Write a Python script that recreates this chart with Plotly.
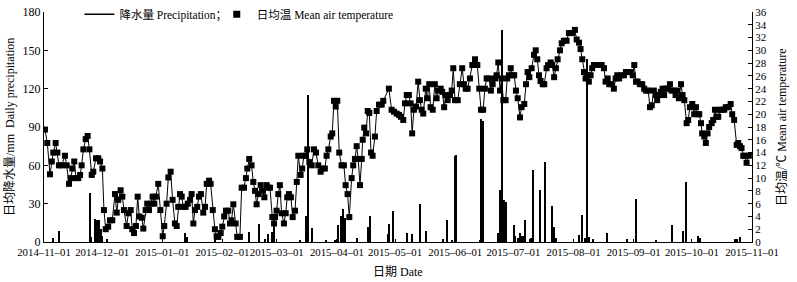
import pandas as pd
import plotly.graph_objects as go

start = pd.Timestamp("2014-11-01")
end = pd.Timestamp("2015-11-01")

# Mean air temperature (°C), position given as day offset from 2014-11-01
temp_day = [0.5, 1.7, 3.1, 4.0, 4.8, 6.0, 6.9, 7.7, 9.1, 10.8, 11.7, 12.9, 13.7, 14.6, 15.6, 16.5, 17.7, 18.6, 19.4, 20.3,
            21.5, 22.5, 23.4, 24.6, 25.4, 26.8, 28.0, 28.9, 30.1, 30.9, 31.8, 33.1, 34.0, 35.2, 36.6, 37.5, 38.3, 39.5, 40.4, 41.2,
            42.6, 43.5, 44.7, 45.5, 46.4, 47.4, 48.3, 49.1, 50.4, 51.2, 52.4, 53.2, 54.1, 55.0, 56.0, 56.9, 57.7, 58.9, 60.0, 61.2,
            62.0, 63.2, 64.1, 65.3, 66.3, 67.5, 68.4, 69.2, 70.1, 71.0, 71.8, 73.0, 74.1, 75.3, 76.1, 77.0, 77.8, 79.0, 79.9, 80.9,
            82.1, 83.0, 83.9, 85.1, 85.9, 87.0, 88.1, 89.0, 89.9, 91.1, 91.9, 92.9, 93.8, 95.0, 95.9, 96.7, 97.6, 98.8, 99.6, 101.0,
            101.9, 103.1, 104.1, 104.8, 105.8, 107.0, 107.9, 108.8, 109.6, 110.5, 111.7, 112.7, 113.6, 114.8, 115.6, 116.5, 117.7, 118.6, 119.1, 119.9,
            120.8, 121.6, 122.5, 123.7, 124.6, 125.4, 126.3, 127.3, 128.2, 129.4, 130.3, 131.1, 132.3, 133.1, 134.0, 134.9, 135.7, 136.8, 138.0, 139.2,
            140.2, 141.4, 142.6, 143.5, 144.8, 145.7, 146.6, 147.8, 148.6, 149.5, 150.4, 151.2, 152.2, 153.4, 154.6, 155.5, 156.5, 157.4, 158.6, 159.4,
            160.3, 161.2, 162.0, 162.9, 163.8, 164.3, 165.1, 166.0, 166.9, 167.7, 168.6, 169.4, 170.6, 171.5, 172.7, 174.1, 174.9, 177.8, 179.2, 180.4,
            181.8, 183.0, 184.0, 185.2, 186.1, 187.0, 188.1, 189.0, 189.8, 190.7, 191.8, 192.9, 193.8, 194.7, 195.5, 196.8, 197.6, 198.6, 199.3, 200.4,
            201.5, 202.4, 203.2, 204.5, 205.3, 206.3, 207.2, 208.1, 209.3, 210.2, 211.0, 211.9, 213.3, 214.4, 215.6, 216.5, 217.4, 218.4, 219.6, 220.8,
            222.2, 223.4, 224.4, 225.3, 226.4, 227.3, 228.2, 229.4, 230.4, 231.3, 232.5, 233.3, 234.2, 235.1, 235.9, 236.8, 238.0, 238.8, 239.7, 240.6,
            241.6, 242.4, 243.3, 244.2, 245.4, 246.2, 247.6, 248.5, 249.3, 250.2, 251.4, 252.6, 253.5, 254.3, 255.2, 256.0, 257.1, 257.9, 259.1, 259.9,
            261.2, 262.0, 263.0, 263.9, 264.8, 266.0, 266.9, 268.0, 269.4, 270.6, 272.3, 273.7, 274.6, 275.8, 276.6, 277.5, 278.4, 279.2, 280.1, 280.9,
            281.8, 282.6, 283.5, 284.9, 286.1, 287.5, 288.7, 289.5, 290.6, 291.4, 292.6, 293.8, 294.7, 295.5, 296.5, 297.8, 299.0, 300.0, 301.2, 302.4,
            303.5, 304.3, 305.2, 306.0, 307.2, 308.4, 309.4, 310.3, 311.5, 312.4, 313.3, 314.4, 315.3, 316.1, 317.0, 318.0, 318.9, 319.7, 320.6, 321.5,
            322.7, 323.5, 324.7, 325.6, 326.4, 327.3, 328.4, 329.2, 330.1, 331.3, 332.1, 333.0, 334.2, 335.2, 336.1, 337.0, 337.8, 338.7, 339.3, 340.4,
            341.2, 342.1, 342.9, 344.2, 345.0, 345.9, 346.8, 347.6, 348.5, 349.6, 350.7, 351.5, 352.7, 354.0, 354.8, 355.8, 357.1, 357.9, 358.8, 359.6,
            360.5, 361.3, 362.2, 363.4]
temp_val = [17.6, 15.5, 10.6, 12.6, 14.0, 15.5, 14.0, 12.0, 12.0, 13.5, 12.0, 9.1, 10.0, 11.5, 12.6, 10.0, 10.0, 10.5, 12.0, 14.5,
            16.1, 16.6, 14.5, 10.5, 11.0, 13.1, 13.1, 12.6, 11.5, 5.0, 2.0, 2.4, 3.4, 3.4, 7.5, 4.6, 6.6, 8.1, 7.1, 5.0,
            2.5, 4.5, 5.0, 2.0, 1.4, 2.5, 7.1, 4.0, 3.8, 2.1, 5.0, 6.0, 5.0, 6.0, 7.1, 6.0, 7.1, 9.1, 5.0, 0.9,
            2.5, 6.0, 10.1, 11.0, 6.6, 2.9, 2.5, 5.5, 7.5, 7.1, 5.5, 5.5, 6.0, 6.6, 7.5, 2.9, 5.0, 5.5, 7.1, 7.5,
            4.6, 5.5, 9.1, 9.6, 9.1, 5.0, 2.0, 0.9, 0.8, 1.4, 2.4, 4.0, 4.9, 4.9, 2.9, 3.4, 5.9, 2.9, 0.8, 0.8,
            8.5, 8.5, 10.0, 11.5, 13.0, 12.0, 9.4, 8.0, 5.9, 7.5, 8.9, 8.0, 7.0, 8.9, 8.5, 8.5, 3.9, 2.9, 3.9, 4.9,
            7.5, 8.9, 4.5, 2.9, 4.5, 7.0, 7.5, 7.0, 3.9, 4.9, 9.4, 13.5, 10.5, 11.5, 13.5, 13.5, 14.5, 12.5, 12.0, 14.5,
            14.0, 12.0, 11.0, 11.5, 11.5, 13.5, 14.5, 16.5, 17.0, 22.1, 21.2, 22.1, 14.0, 12.0, 12.0, 8.9, 7.5, 3.9, 10.0, 12.0,
            13.0, 15.0, 13.0, 8.9, 13.0, 16.0, 17.9, 17.0, 20.5, 20.2, 14.0, 13.5, 16.5, 20.5, 21.5, 21.5, 22.1, 24.0, 20.7, 20.4,
            20.1, 19.9, 19.6, 19.1, 21.7, 23.0, 23.0, 21.7, 17.0, 20.7, 21.2, 25.1, 22.2, 20.7, 20.1, 24.0, 22.5, 24.7, 21.1, 20.7,
            24.7, 22.5, 23.7, 24.0, 23.5, 21.1, 23.0, 22.2, 23.0, 23.7, 27.2, 22.2, 22.2, 24.7, 27.2, 24.7, 24.0, 24.0, 25.6, 27.7,
            28.6, 27.7, 24.0, 20.7, 20.7, 24.0, 25.6, 25.6, 23.7, 24.7, 25.6, 26.1, 28.1, 23.7, 25.6, 22.2, 22.2, 25.6, 26.1, 27.2,
            26.1, 26.1, 23.7, 22.5, 19.5, 21.1, 21.6, 24.7, 26.6, 25.8, 27.2, 29.3, 30.0, 28.6, 26.1, 25.2, 24.7, 24.7, 27.2, 27.7,
            28.1, 27.7, 25.8, 27.2, 28.6, 30.0, 31.1, 31.5, 31.5, 32.7, 32.7, 33.2, 31.7, 31.2, 30.2, 28.6, 26.6, 25.6, 26.1, 25.1,
            26.1, 27.2, 27.7, 27.7, 27.7, 27.7, 27.2, 25.1, 25.6, 24.7, 24.7, 24.0, 25.6, 26.1, 25.6, 26.1, 26.1, 26.6, 26.6, 26.6,
            26.1, 27.7, 25.1, 25.1, 24.7, 24.7, 24.0, 23.7, 23.7, 21.1, 21.4, 23.7, 23.0, 22.2, 23.0, 23.5, 24.0, 23.0, 24.0, 24.0,
            24.7, 23.7, 23.7, 23.0, 23.7, 22.5, 24.7, 23.0, 22.2, 18.6, 19.1, 21.1, 21.6, 20.0, 21.1, 20.0, 20.0, 18.6, 17.0, 16.5,
            15.5, 17.0, 18.0, 18.6, 19.1, 20.7, 19.6, 19.6, 20.7, 20.7, 20.7, 21.1, 21.1, 21.6, 20.0, 19.1, 15.2, 15.5, 15.0, 14.7,
            13.5, 13.5, 12.4, 13.5]

# Daily precipitation (mm), position given as day offset from 2014-11-01
rain_day = [4.6, 7.7, 23.7, 24.2, 26.6, 27.5, 28.5, 29.4, 30.1, 32.8, 73.0, 73.7, 88.1, 105.8, 110.8, 113.9, 115.6, 117.7, 118.6, 132.3,
            135.4, 136.2, 138.3, 145.4, 150.0, 151.4, 153.1, 154.3, 155.2, 161.2, 167.2, 168.0, 177.2, 177.8, 180.1, 187.0, 189.8, 193.8, 196.8, 205.8,
            207.9, 210.5, 211.9, 212.7, 224.7, 225.6, 226.4, 234.2, 235.4, 236.2, 237.3, 238.1, 242.3, 243.1, 244.2, 245.4, 246.2, 247.1, 248.3, 250.5,
            251.4, 252.2, 256.0, 258.2, 262.2, 263.0, 263.9, 275.8, 277.7, 279.2, 280.1, 280.9, 283.1, 290.1, 300.9, 305.5, 315.5, 323.6, 329.5, 331.3,
            337.3, 338.1, 356.2, 357.1, 359.1]
rain_mm = [3, 9, 38, 4, 18, 17, 17, 10, 5, 2.5, 7, 4, 2, 8, 14, 2, 6, 8, 15, 1,
           20, 115, 11, 1, 1, 13, 20, 26, 19, 3, 12, 20, 6, 14, 24, 7, 6, 30, 9, 2.5,
           17, 1, 67, 68, 1, 96, 95, 7, 41, 166, 33, 31.5, 13, 5, 3, 7, 5, 4.5, 17, 2,
           3, 56, 41, 63, 28, 12, 3, 5.5, 21, 3, 143, 4, 2, 7, 2, 34, 1, 13, 9, 47,
           5, 3.5, 2, 2, 4]

month_ticks = pd.date_range(start, end, freq="MS")

tx = [start + pd.Timedelta(days=d) for d in temp_day]
rx = [start + pd.Timedelta(days=d) for d in rain_day]

FONT = "Liberation Serif, Times New Roman, Noto Sans CJK SC, serif"

fig = go.Figure()
fig.add_trace(go.Bar(x=rx, y=rain_mm, width=0.7 * 86400000, marker=dict(color="black", line=dict(width=0)),
                     showlegend=False, yaxis="y"))
fig.add_trace(go.Scatter(x=tx, y=temp_val, mode="lines+markers", yaxis="y2", showlegend=False,
                         line=dict(color="black", width=1),
                         marker=dict(symbol="square", size=6, color="black")))
# legend entries
fig.add_trace(go.Scatter(x=[None], y=[None], mode="lines", name="降水量 Precipitation；",
                         line=dict(color="black", width=1.5), legend="legend"))
fig.add_trace(go.Scatter(x=[None], y=[None], mode="markers", name="日均温 Mean air temperature",
                         marker=dict(symbol="square", size=7, color="black"), yaxis="y2", legend="legend2"))

fig.update_layout(
    width=797, height=282,
    margin=dict(l=44, r=45, t=12, b=40, autoexpand=False),
    paper_bgcolor="white", plot_bgcolor="white",
    font=dict(family=FONT, size=11, color="black"),
    bargap=0,
    xaxis=dict(range=[start, end], tickvals=month_ticks, tickformat="%Y–%m–%d", tickangle=0,
               automargin=False,
               showline=True, linecolor="black", linewidth=1, ticks="inside", ticklen=3,
               tickcolor="black", showgrid=False, zeroline=False,
               tickfont=dict(size=10.8)),
    yaxis=dict(range=[0, 180], dtick=30, showline=True, linecolor="black", linewidth=1, automargin=False,
               ticks="inside", ticklen=4, tickcolor="black", showgrid=False, zeroline=False,
               tickfont=dict(size=12)),
    yaxis2=dict(range=[0, 36], dtick=2, overlaying="y", side="right", showline=True, linecolor="black",
                linewidth=1, ticks="inside", ticklen=4, tickcolor="black", showgrid=False, zeroline=False,
                automargin=False, tickfont=dict(size=11)),
    legend=dict(orientation="h", x=0.05, y=0.99, xanchor="left", yanchor="middle",
                bgcolor="rgba(0,0,0,0)", font=dict(size=11.5), itemwidth=30),
    legend2=dict(orientation="h", x=0.244, y=0.99, xanchor="left", yanchor="middle",
                 bgcolor="rgba(0,0,0,0)", font=dict(size=11.5), itemwidth=30),
    annotations=[
        dict(text="日均降水量/mm  Daily precipitation", xref="paper", yref="paper", x=0, y=0.5,
             xanchor="center", yanchor="middle", xshift=-34, textangle=-90, showarrow=False,
             font=dict(size=12)),
        dict(text="日均温/℃ Mean air temperature", xref="paper", yref="paper", x=1, y=0.5,
             xanchor="center", yanchor="middle", xshift=30, textangle=-90, showarrow=False,
             font=dict(size=12)),
        dict(text="日期 Date", xref="paper", yref="paper", x=0.5, y=0,
             xanchor="center", yanchor="middle", yshift=-30, showarrow=False,
             font=dict(size=12)),
    ],
)

fig.write_html("out.html", config={"displayModeBar": False})

# remove the default page margin so the figure sits at the window's top-left corner
with open("out.html", encoding="utf-8") as f:
    html = f.read()
html = html.replace("<body>", '<body style="margin:0;padding:0;overflow:hidden">', 1)
with open("out.html", "w", encoding="utf-8") as f:
    f.write(html)
